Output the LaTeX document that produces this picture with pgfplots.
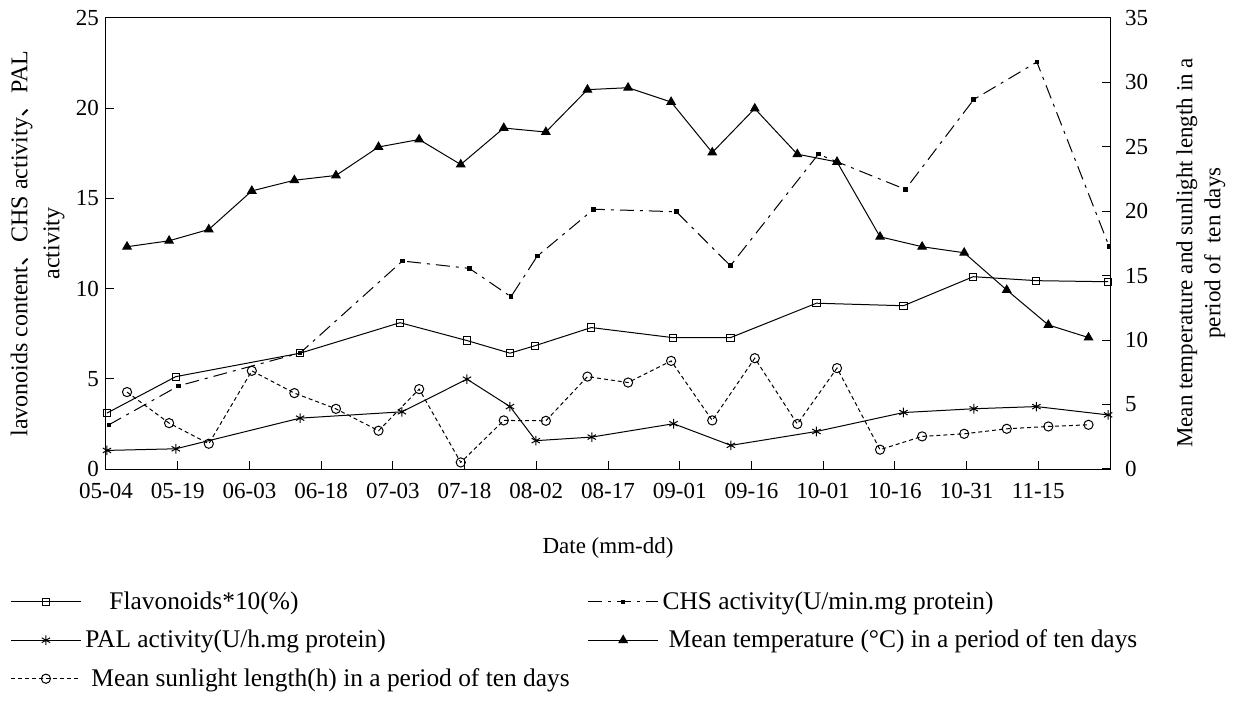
\documentclass[border=0pt]{standalone}
\usepackage{fontspec}
\setmainfont{Liberation Serif}
\newfontfamily\cjk{Noto Sans CJK SC}
\usepackage{pgfplots}
\pgfplotsset{compat=1.18}

\pgfplotsset{
  common/.style={
    scale only axis, width=502pt, height=225.5pt,
    xmin=0, xmax=210, clip=false,
    tick align=inside, major tick length=4pt,
    every axis plot/.append style={line width=0.5pt, black},
    tick style={black, line width=0.5pt},
    axis line style={line width=0.5pt},
    /pgf/number format/assume math mode=true,
    ticklabel style={font=\fontsize{11.5}{13}\selectfont},
    label style={font=\fontsize{11.5}{14}\selectfont},
  },
}

\begin{document}
\begin{tikzpicture}
% left axis: flavonoids, CHS, PAL
\begin{axis}[common, name=main,
  ymin=0, ymax=25, ytick={0,5,...,25}, ytick pos=left,
  xtick={0,15,...,195}, xtick pos=bottom,
  xticklabels={05-04,05-19,06-03,06-18,07-03,07-18,08-02,08-17,09-01,09-16,10-01,10-16,10-31,11-15},
  xticklabel style={yshift=-3.5pt},
  xlabel={Date (mm-dd)},
  xlabel style={at={(axis description cs:0.5,-0.175)}, anchor=center},
  ylabel={lavonoids content{\cjk 、}CHS activity{\cjk 、}PAL\\activity},
  ylabel style={at={(axis description cs:-0.068,0.5)}, anchor=center, align=center,
    font=\fontsize{12}{16}\selectfont},
  legend columns=2, legend cell align=left,
  legend image code/.code={\draw[mark repeat=2,mark phase=2,#1] plot coordinates {(0pt,0pt) (17.5pt,0pt) (35pt,0pt)};},
  legend style={at={(axis description cs:-0.0956,-0.262)}, anchor=north west,
    draw=none, fill=none, inner sep=0pt, row sep=4.8pt,
    font=\fontsize{12.7}{15}\selectfont,
    /tikz/column 2/.style={column sep=7pt}},
]
\addplot[mark=square, mark size=1.8pt, mark options={fill=white, solid}] coordinates {
  (0.2,3.10) (14.6,5.12) (40.6,6.42) (61.5,8.11) (75.5,7.12) (84.5,6.42) (89.8,6.84)
  (101.5,7.84) (118.6,7.28) (130.6,7.28) (148.6,9.19) (166.8,9.05) (181.4,10.66)
  (194.6,10.44) (209.6,10.38)
};
\addplot[dash pattern=on 7pt off 3pt on 1.5pt off 3pt, mark=square*, mark size=0.9pt, mark options={solid}] coordinates {
  (0.6,2.45) (15.2,4.61) (40.6,6.43) (62.0,11.53) (76.0,11.12) (84.7,9.55) (90.2,11.80)
  (102.0,14.40) (119.3,14.26) (130.6,11.27) (149.0,17.45) (167.2,15.50) (181.5,20.48)
  (194.7,22.56) (209.8,12.35)
};
\addplot[mark=asterisk, mark size=2.4pt, mark options={solid}] coordinates {
  (0.2,1.03) (14.6,1.12) (40.6,2.82) (61.9,3.17) (75.5,4.98) (84.5,3.46) (89.9,1.57)
  (101.6,1.77) (118.7,2.51) (130.7,1.31) (148.6,2.08) (166.8,3.13) (181.5,3.34)
  (194.6,3.46) (209.6,3.00)
};
\addlegendimage{mark=triangle*, mark size=2.4pt}
\addlegendimage{dash pattern=on 2pt off 1.5pt, mark=o, mark size=2.3pt, mark options={solid, fill=white}}
\legend{\hspace*{12pt}Flavonoids*10(\%), CHS activity(U/min.mg protein), PAL activity(U/h.mg protein), \hspace*{3pt}Mean temperature (°C) in a period of ten days, \hspace*{3pt}Mean sunlight length(h) in a period of ten days}
\end{axis}
% right axis: temperature and sunlight
\begin{axis}[common,
  ymin=0, ymax=35, ytick={0,5,...,35},
  axis y line*=right, axis x line=none,
  yticklabel style={xshift=4pt},
  ylabel={Mean temperature and sunlight length in a\\period of\ \ ten days},
  ylabel style={at={(axis description cs:1.0906,0.479)}, anchor=center, align=center},
]
\addplot[mark=triangle*, mark size=2.4pt] coordinates {
  (4.4,17.25) (13.2,17.71) (21.5,18.59) (30.5,21.58) (39.4,22.41) (48.1,22.78)
  (57.0,24.99) (65.5,25.57) (74.2,23.63) (83.2,26.46) (92.0,26.15) (100.7,29.44)
  (109.2,29.59) (118.2,28.48) (126.8,24.56) (135.7,27.97) (144.6,24.43) (152.9,23.83)
  (161.9,18.02) (170.7,17.25) (179.5,16.78) (188.4,13.89) (197.1,11.18) (205.5,10.20)
};
\addplot[dash pattern=on 2pt off 1.5pt, mark=o, mark size=2.3pt, mark options={solid, fill=white}] coordinates {
  (4.4,5.97) (13.2,3.56) (21.5,1.96) (30.5,7.62) (39.4,5.89) (48.1,4.67)
  (57.0,2.97) (65.5,6.20) (74.2,0.51) (83.2,3.77) (92.0,3.74) (100.7,7.17)
  (109.2,6.71) (118.2,8.39) (126.8,3.77) (135.7,8.60) (144.6,3.49) (152.9,7.83)
  (161.9,1.50) (170.7,2.53) (179.5,2.73) (188.4,3.12) (197.1,3.30) (205.5,3.43)
};
\end{axis}
\pgfresetboundingbox
\path[use as bounding box] ([xshift=-53pt,yshift=-115.5pt]main.south west) rectangle ([xshift=62pt,yshift=9pt]main.north east);
\end{tikzpicture}
\end{document}
